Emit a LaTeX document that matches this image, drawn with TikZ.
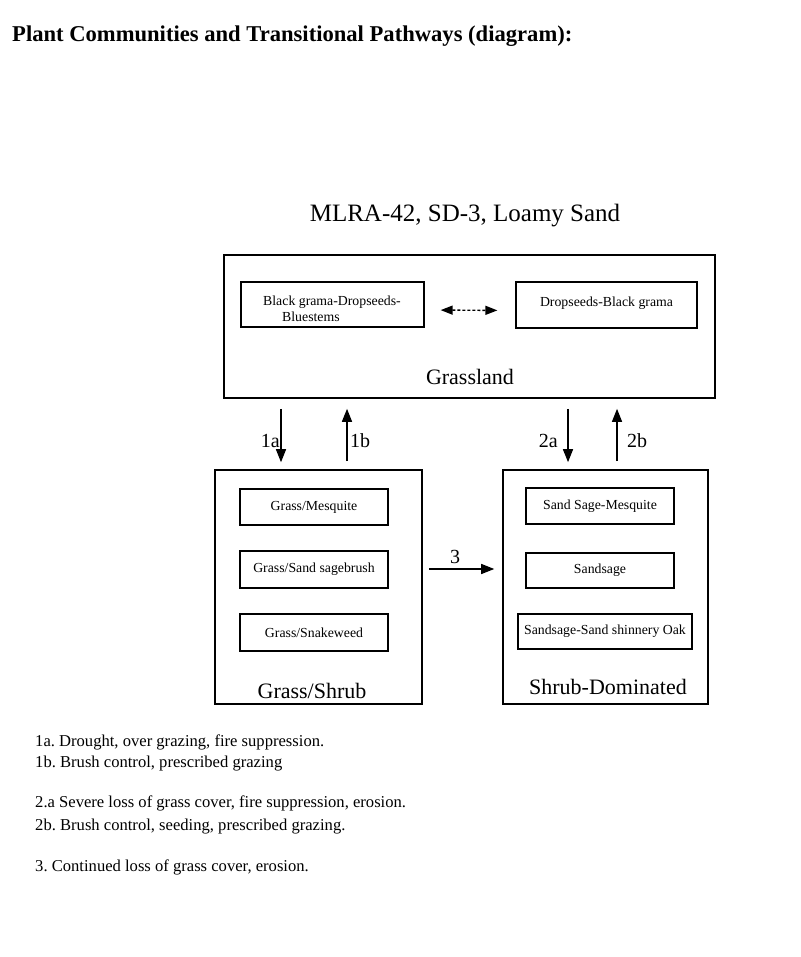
\documentclass[tikz,border=0pt]{standalone}
\usepackage{fontspec}
\setmainfont{Liberation Serif}
\usetikzlibrary{arrows.meta}
\frenchspacing
\tikzset{
  bigbox/.style={draw, line width=1.6pt, inner sep=0pt},
  ibox/.style={draw, line width=1.3pt, inner sep=0pt, font=\fontsize{13.8}{16}\selectfont},
  stext/.style={inner sep=0pt, font=\fontsize{13.8}{15.5}\selectfont},
  ltext/.style={inner sep=0pt, font=\fontsize{22}{26}\selectfont},
  ntext/.style={inner sep=0pt, anchor=base west, font=\fontsize{16.6}{19}\selectfont},
  arr/.style={line width=1.3pt, -{Triangle[length=13pt,width=10pt]}},
  darr/.style={line width=1.4pt, dash pattern=on 3pt off 2pt, {Triangle[length=12pt,width=9pt]}-{Triangle[length=12pt,width=9pt]}},
}
\begin{document}
\begin{tikzpicture}[x=1pt,y=-1pt]
\useasboundingbox[fill=white] (0,0) rectangle (800,957);
% titles
\node[inner sep=0pt, anchor=base west, font=\fontsize{22.6}{26}\selectfont\bfseries] (title) at (12,42) {Plant Communities and Transitional Pathways (diagram):};
\node[inner sep=0pt, anchor=base, font=\fontsize{25}{29}\selectfont] (sub) at (465,222) {MLRA-42, SD-3, Loamy Sand};
% grassland
\node[bigbox, minimum width=491, minimum height=143] (top) at (469.5,326.5) {};
\node[ltext, anchor=base] (gllab) at (470,384) {Grassland};
\node[ibox, minimum width=183, minimum height=45] (gl1) at (332.5,304.5) {};
\node[stext, anchor=base west, align=left] (gl1t) at (263,321) {Black grama-Dropseeds-\\\hspace{19pt}Bluestems};
\node[ibox, minimum width=181, minimum height=46] (gl2) at (606.5,305) {};
\node[stext, anchor=base] (gl2t) at (606.5,306) {Dropseeds-Black grama};
\draw[darr, shorten <=16pt, shorten >=18pt] ([yshift=-5.5pt]gl1.east) -- ([yshift=-5.5pt]gl2.west);
% grass/shrub
\node[bigbox, minimum width=207, minimum height=234] (gs) at (318.5,587) {};
\node[ltext, anchor=base] (gslab) at (312,698) {Grass/Shrub};
\node[ibox, minimum width=148, minimum height=36] (gs1) at (314,507) {Grass/Mesquite};
\node[ibox, minimum width=148, minimum height=37] (gs2) at (314,569.5) {Grass/Sand sagebrush};
\node[ibox, minimum width=148, minimum height=37] (gs3) at (314,632.5) {Grass/Snakeweed};
% shrub dominated
\node[bigbox, minimum width=205, minimum height=234] (sd) at (605.5,587) {};
\node[ltext, anchor=base] (sdlab) at (608,694) {Shrub-Dominated};
\node[ibox, minimum width=148, minimum height=36] (sd1) at (600,506) {Sand Sage-Mesquite};
\node[ibox, minimum width=148, minimum height=35] (sd2) at (600,570.5) {Sandsage};
\node[ibox, minimum width=174, minimum height=35] (sd3) at (605,631.5) {Sandsage-Sand shinnery Oak};
% transitions
\draw[arr, shorten <=10pt, shorten >=7pt] ([xshift=-37.5pt]gs.north |- top.south) -- ([xshift=-37.5pt]gs.north);
\draw[arr, shorten <=8pt, shorten >=10pt] ([xshift=28.5pt]gs.north) -- ([xshift=28.5pt]gs.north |- top.south);
\draw[arr, shorten <=10pt, shorten >=7pt] ([xshift=-37.5pt]sd.north |- top.south) -- ([xshift=-37.5pt]sd.north);
\draw[arr, shorten <=8pt, shorten >=10pt] ([xshift=11.5pt]sd.north) -- ([xshift=11.5pt]sd.north |- top.south);
\draw[arr, shorten <=6pt, shorten >=8pt] ([yshift=18pt]gs.east) -- ([yshift=18pt]gs.east -| sd.west);
\node[ltext, anchor=base east, font=\fontsize{20}{24}\selectfont] (l1a) at (280,447) {1a};
\node[ltext, anchor=base west, font=\fontsize{20}{24}\selectfont] (l1b) at (350,447) {1b};
\node[ltext, anchor=base east, font=\fontsize{20}{24}\selectfont] (l2a) at (558,447) {2a};
\node[ltext, anchor=base west, font=\fontsize{20}{24}\selectfont] (l2b) at (627,447) {2b};
\node[ltext, anchor=base, font=\fontsize{20}{24}\selectfont] (l3) at (455,563) {3};
% notes
\node[ntext] (n1) at (35,746) {1a. Drought, over grazing, fire suppression.};
\node[ntext] (n2) at (35,767) {1b. Brush control, prescribed grazing};
\node[ntext] (n3) at (35,807) {2.a Severe loss of grass cover, fire suppression, erosion.};
\node[ntext] (n4) at (35,830) {2b. Brush control, seeding, prescribed grazing.};
\node[ntext] (n5) at (35,871) {3. Continued loss of grass cover, erosion.};
\end{tikzpicture}
\end{document}
